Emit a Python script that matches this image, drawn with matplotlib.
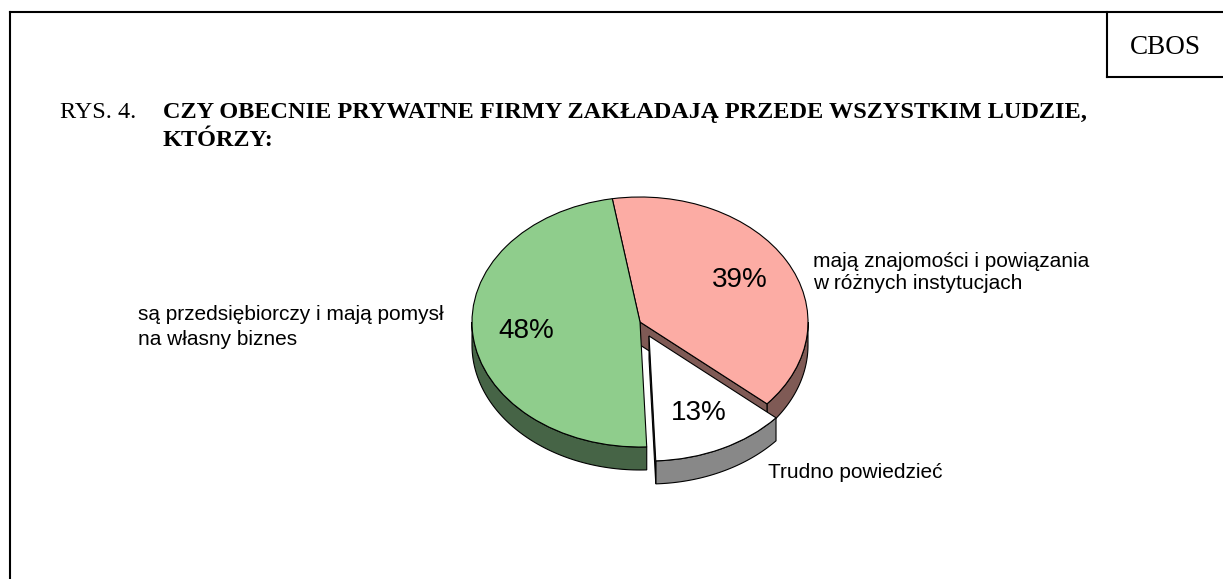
import numpy as np
import matplotlib
matplotlib.use("Agg")
import matplotlib.pyplot as plt
from matplotlib.patches import Polygon

# data
categories = ["mają znajomości i powiązania\nw różnych instytucjach",
              "Trudno powiedzieć",
              "są przedsiębiorczy i mają pomysł\nna własny biznes"]
shares = [39, 13, 48]
top_colors = ["#fcaca4", "#ffffff", "#8fcd8c"]
side_colors = ["#7f5a55", "#888888", "#466446"]
explode = [0, 0.124, 0]

title_prefix = "RYS. 4."
title_lines = ["CZY OBECNIE PRYWATNE FIRMY ZAKŁADAJĄ PRZEDE WSZYSTKIM LUDZIE,",
               "KTÓRZY:"]
source = "CBOS"

W, H = 1223, 579
fig = plt.figure(figsize=(W / 100, H / 100), dpi=100)

# background axes in pixel units for the frame and the texts
bg = fig.add_axes([0, 0, 1, 1])
bg.set_xlim(0, W)
bg.set_ylim(H, 0)
bg.axis("off")

lw = 1.5
bg.plot([10, 10], [12, H], color="black", lw=lw, solid_capstyle="projecting")
bg.plot([10, W], [12, 12], color="black", lw=lw, solid_capstyle="projecting")
bg.plot([1107, 1107], [12, 77], color="black", lw=lw)
bg.plot([1107, W], [77, 77], color="black", lw=lw)
bg.text(1165, 47, source, ha="center", va="center", fontsize=19.5,
        family="Liberation Serif")

serif = dict(family="Liberation Serif", fontsize=17.5, va="baseline")
bg.text(60, 118, title_prefix, **serif)
bg.text(163, 118, title_lines[0], fontweight="bold", **serif)
bg.text(163, 146, title_lines[1], fontweight="bold", **serif)

sans = dict(family="Liberation Sans", fontsize=15, va="baseline", ha="left")
lab_pos = [(813, [267, 289]), (768, [478]), (138, [320, 345])]
for text, (x, ys) in zip(categories, lab_pos):
    for line, y in zip(text.split("\n"), ys):
        bg.text(x, y, line, **sans)

# pie axes: unit radius -> 168 px horizontally, 125 px vertically
rx, ry, cx, cy = 168, 125, 640, 322
x0, x1, y0, y1 = -1.3, 1.3, -1.45, 1.15
ax = fig.add_axes([(cx + x0 * rx) / W, (H - (cy - y0 * ry)) / H,
                   (x1 - x0) * rx / W, (y1 - y0) * ry / H])
wedges, texts, autotexts = ax.pie(
    shares, colors=top_colors, explode=explode, startangle=99.5,
    counterclock=False, autopct=lambda p: f"{p:.0f}%", pctdistance=0.68,
    wedgeprops=dict(edgecolor="black", linewidth=0.8, zorder=3),
    textprops=dict(fontsize=20, family="Liberation Sans"))
for t in autotexts:
    t.set_zorder(4)
ax.set_aspect("auto")
ax.set_xlim(x0, x1)
ax.set_ylim(y0, y1)
ax.axis("off")

depth = 23 / ry


def side_poly(center, a, b):
    t = np.radians(np.linspace(a, b, 80))
    top = np.column_stack([center[0] + np.cos(t), center[1] + np.sin(t)])
    bot = top - [0, depth]
    return np.vstack([top, bot[::-1]])


order = sorted(range(len(wedges)), key=lambda i: explode[i])
for i in order:
    w = wedges[i]
    c = w.center
    t1, t2 = w.theta1, w.theta2
    # outer rim, only the front half is visible
    for k in (-360, 0, 360):
        lo, hi = max(t1, -180 + k), min(t2, k)
        if hi > lo:
            ax.add_patch(Polygon(side_poly(c, lo, hi), closed=True,
                                 facecolor=side_colors[i], edgecolor="black",
                                 lw=0.8, zorder=2))
    # cut faces that look towards the viewer
    for t, sgn in ((t1, 1), (t2, -1)):
        r = np.radians(t)
        ny = -sgn * np.cos(r)
        if ny < 0:
            p = [c[0] + np.cos(r), c[1] + np.sin(r)]
            pts = [c, p, [p[0], p[1] - depth], [c[0], c[1] - depth]]
            ax.add_patch(Polygon(pts, closed=True, facecolor=side_colors[i],
                                 edgecolor="black", lw=0.8, zorder=2))

fig.savefig("out.png", dpi=100)
